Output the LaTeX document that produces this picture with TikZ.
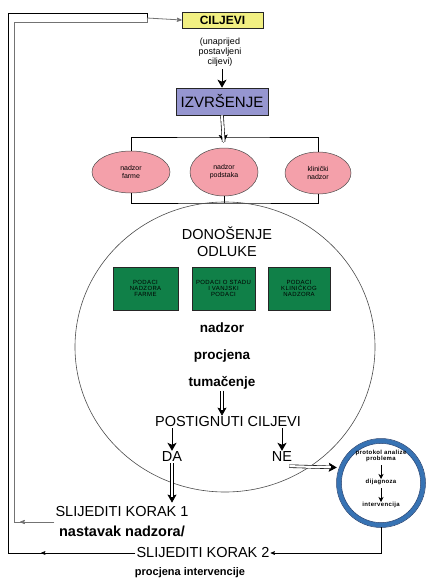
\documentclass[tikz,border=0pt]{standalone}
\usepackage{fontspec}
\setmainfont{Liberation Sans}
\newfontfamily\tinyfont{Liberation Sans}[LetterSpace=6]
\usetikzlibrary{arrows,arrows.meta,shapes.geometric,decorations.markings}
\tikzset{>=stealth'}
\definecolor{ciljyellow}{RGB}{242,240,130}
\definecolor{izvpurple}{RGB}{150,150,208}
\definecolor{nadzorpink}{RGB}{244,160,170}
\definecolor{podgreen}{RGB}{16,128,72}
\definecolor{ringblue}{RGB}{55,115,180}
\definecolor{ringdark}{RGB}{25,55,105}
\newcommand{\fsz}[2]{\fontsize{#1}{#2}\selectfont}

\begin{document}
\begin{tikzpicture}[x=1pt,y=-1pt,font=\fsz{14.5}{17}]

\tikzstyle{topbox}=[draw=black!85,line width=0.6pt,inner sep=0pt]
\tikzstyle{ell}=[ellipse,draw=black!70,line width=0.5pt,fill=nadzorpink,inner sep=0pt,align=center,font=\fsz{7}{8}]
\tikzstyle{podbox}=[draw=black!85,line width=0.6pt,fill=podgreen,minimum height=43pt,inner sep=0pt,align=center,font=\tinyfont\fsz{6}{6}]
\tikzstyle{dbl}=[line width=0.6pt,-{Stealth[length=8pt,width=9pt,inset=1.5pt]},postaction={draw,-,double=white,double distance=2.2pt,shorten >=6pt}]
\tikzstyle{hvy}=[line width=1pt,-{Stealth[length=8pt,width=9pt,inset=2pt]}]
\tikzstyle{ringtxt}=[align=center,inner sep=0pt,font=\tinyfont\bfseries\fsz{6}{6.5}]
\tikzstyle{midarr}=[postaction={decorate},decoration={markings,mark=at position #1 with {\arrow{stealth'}}}]

\useasboundingbox (0,0) rectangle (427,578);

\node[topbox,fill=ciljyellow,minimum width=81pt,minimum height=16pt,font=\bfseries\fsz{12}{14}] (cilj) at (222.5,20) {CILJEVI};
\node[align=center,inner sep=0pt,font=\fsz{9}{10}] (unapr) at (220,52) {(unaprijed\\postavljeni\\ciljevi)};
\node[topbox,fill=izvpurple,minimum width=92pt,minimum height=27pt,font=\fsz{15}{17}] (izv) at (222,101.5) {IZVRŠENJE};
\draw[hvy] (unapr.south -| izv.north) ++(0,3) -- (izv.north);

\node[ell,minimum width=78pt,minimum height=42pt] (farme) at (131,172) {nadzor\\farme};
\node[ell,minimum width=68pt,minimum height=48pt] (podst) at (224,172) {nadzor\\podstaka};
\node[ell,minimum width=66pt,minimum height=42pt] (klin) at (318,173) {klinički\\nadzor};

\coordinate (brtop) at (222,137);
\coordinate (brbot) at (224,203);
\draw[line width=0.6pt] (farme.north) |- (brtop) -| (klin.north);
\draw[line width=0.6pt] (farme.south) |- (brbot) -| (klin.south);
\draw[line width=0.6pt] (podst.south) -- (podst.south |- brbot);
\draw[dbl,shorten >=5pt] (izv.south) -- (podst.north);

\node[ellipse,draw=black!70,line width=0.6pt,minimum width=300pt,minimum height=290pt] (odluka) at (225,347) {};
\node[align=center,inner sep=0pt] (don) at (227,241.5) {DONOŠENJE\\ODLUKE};

\node[podbox,minimum width=65pt] (pod1) at (145.5,288.5) {PODACI\\NADZORA\\FARME};
\node[podbox,minimum width=63pt] (pod2) at (223.5,288.5) {PODACI O STADU\\I VANJSKI\\PODACI};
\node[podbox,minimum width=62pt] (pod3) at (299,288.5) {PODACI\\KLINIČKOG\\NADZORA};

\node[font=\bfseries\fsz{13.5}{16},inner sep=1pt] (nadz) at (222,328) {nadzor};
\node[font=\bfseries\fsz{13.5}{16},inner sep=1pt] (procj) at (222,356) {procjena};
\node[font=\bfseries\fsz{13.5}{16},inner sep=1pt] (tuma) at (222,383) {tumačenje};
\node[inner sep=1pt] (postig) at (228,422) {POSTIGNUTI CILJEVI};
\draw[dbl] (tuma.south) -- (postig.north -| tuma.south);

\node[inner sep=1pt] (da) at (172,457) {DA};
\node[inner sep=1pt] (ne) at (282,457) {NE};
\draw[hvy] (postig.south -| da) -- (da.north);
\draw[hvy] (postig.south -| ne) -- (ne.north);

\node[circle,draw=ringblue,line width=4.5pt,minimum size=84pt] (ring) at (381,483) {};
\draw[ringdark,line width=0.5pt] (ring.center) circle (44.5) (ring.center) circle (39.6);
\node[ringtxt] (protok) at (381,456) {protokol analize\\problema};
\node[ringtxt] (dijag) at (381,482) {dijagnoza};
\node[ringtxt] (interv) at (381,505) {intervencija};
\draw[line width=0.6pt,-{Stealth[length=5pt,width=5pt,inset=1.5pt]}] (protok.south) ++(0,3) -- (dijag.north);
\draw[line width=0.6pt,-{Stealth[length=5pt,width=5pt,inset=1.5pt]}] (dijag.south) ++(0,3) -- (interv.north);
\draw[dbl] ([xshift=-4pt,yshift=-3pt]ne.south east) -- (ring.west |- 0,467.5);

\node[align=center,inner sep=1pt,font=\fsz{14.5}{20}] (korak1) at (122,522) {SLIJEDITI KORAK 1\\\bfseries nastavak nadzora/};
\draw[dbl] (da.south) -- ([yshift=3pt]da.south |- korak1.north);
\node[inner sep=1pt] (korak2) at (203,553) {SLIJEDITI KORAK 2};
\node[inner sep=1pt,font=\bfseries\fsz{11}{13}] (korak2b) at (190,573) {procjena intervencije};

\draw[line width=0.6pt,->] (ring.south) |- (korak2.east);

\coordinate (lo1) at (8,553);
\coordinate (lo2) at (8,13);
\coordinate (li1) at (14,522);
\coordinate (li2) at (14,22);
\coordinate (jn) at (147,18);
\draw[line width=0.6pt,midarr=0.74] (korak2.west) -- (lo1);
\draw[line width=0.6pt] (lo1) -- (lo2) -| (jn);
\draw[black!55,line width=0.8pt,midarr=0.85] (korak1.west) -- (li1);
\draw[black!55,line width=0.8pt] (li1) -- (li2) -| (jn);
\draw[black!55,line width=0.8pt,->] (jn) -- (cilj.west);

\end{tikzpicture}
\end{document}
